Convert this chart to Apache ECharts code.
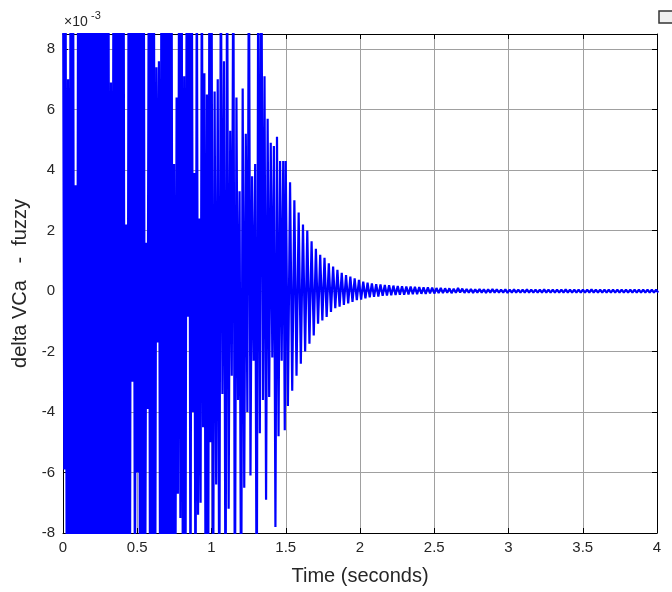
<!DOCTYPE html>
<html><head><meta charset="utf-8">
<script src="https://cdn.jsdelivr.net/npm/echarts@6/dist/echarts.min.js"></script>
<style>html,body{margin:0;padding:0;background:#fff}#c{width:672px;height:592px}</style>
</head><body><div id="c"></div>
<script>
// Signal stored as alternating extrema (peak, trough, peak, ...), in units of 1e-3.
// Values beyond +/-8.5 run off the axes.
// Segment 1: 0 s .. 1.0 s
const earlyStart = 0;
const earlyStep = 0.0085;
const earlyPeaks = [
 12, 12, 7.0, 12, 12, 3.5, 12, 12, 12, 12,
 12, 12, 12, 12, 12, 12, 12, 12, 12, 6.9,
 12, 12, 12, 12, 12, 2.2, 12, 12, 12, 12,
 12, 12, 12, 1.6, 12, 12, 12, 7.4, 7.6, 12,
 12, 12, 12, 12, 4.2, 6.4, 12, 12, 7.1, 12,
 12, 12, 3.9, 12, 2.4, 12, 7.2, 6.5, 12
];
const earlyTroughs = [
 -5.9, -12, -12, -12, -12, -12, -12, -12, -12, -12,
 -12, -12, -12, -12, -12, -12, -12, -12, -12, -12,
 -12, -12, -12, -12, -12, -12, -12, -3.0, -12, -6.0,
 -12, -12, -12, -3.9, -12, -12, -12, -1.7, -12, -12,
 -12, -12, -12, -12, -12, -6.7, -7.5, -12, -12, -0.85,
 -12, -4.0, -12, -7.4, -7.0, -4.5, -12, -12, -5.0
];
// Segment 2: 1.0 s .. 1.5 s
const midStart = 1.0;
const midStep = 0.0105;
const midPeaks = [
 12, 6.6, 7.0, 12, 7.6, 12, 5.3, 12, 6.4, 3.3,
 6.7, 5.2, 12, 3.8, 4.2, 12, 12, 7.1, 5.7, 4.9,
 4.8, 5.1, 4.3, 4.3
];
const midTroughs = [
 -12, -6.4, -12, -3.4, -12, -7.2, -2.8, -12, -3.6, -12,
 -6.5, -4.0, -6.1, -2.3, -12, -4.7, -3.6, -6.9, -3.5, -2.2,
 -7.8, -4.8, -2.3, -4.6
];
// Segment 3: 1.5 s .. 4.0 s
const lateStart = 1.5;
const lateStep = 0.0145;
const latePeaks = [
 4.3, 3.6, 3.0, 2.6, 2.2, 2.0, 1.65, 1.4, 1.2, 1.1,
 0.92, 0.81, 0.7, 0.6, 0.53, 0.48, 0.42, 0.37, 0.31, 0.28,
 0.25, 0.23, 0.22, 0.2, 0.19, 0.18, 0.17, 0.16, 0.15, 0.15,
 0.14, 0.13, 0.12, 0.12, 0.11, 0.1, 0.1, 0.09, 0.09, 0.08,
 0.1, 0.08, 0.07, 0.07, 0.06, 0.07, 0.06, 0.06, 0.07, 0.06,
 0.05, 0.06, 0.05, 0.06, 0.05, 0.05, 0.06, 0.05, 0.05, 0.05,
 0.06, 0.05, 0.05, 0.05, 0.05, 0.06, 0.05, 0.05, 0.05, 0.05,
 0.05, 0.06, 0.05, 0.05, 0.05, 0.05, 0.05, 0.05, 0.05, 0.05,
 0.05, 0.05, 0.05, 0.05, 0.05, 0.05, 0.05
];
const lateTroughs = [
 -3.8, -3.3, -2.8, -2.4, -2.0, -1.74, -1.47, -1.08, -0.97, -0.86,
 -0.69, -0.57, -0.52, -0.46, -0.41, -0.36, -0.3, -0.28, -0.24, -0.21,
 -0.19, -0.18, -0.16, -0.15, -0.14, -0.13, -0.12, -0.12, -0.11, -0.1,
 -0.1, -0.09, -0.09, -0.08, -0.08, -0.07, -0.07, -0.06, -0.07, -0.06,
 -0.05, -0.06, -0.05, -0.06, -0.05, -0.05, -0.06, -0.05, -0.05, -0.05,
 -0.05, -0.06, -0.05, -0.05, -0.05, -0.05, -0.05, -0.05, -0.05, -0.05,
 -0.05, -0.05, -0.05, -0.05, -0.05, -0.05, -0.05, -0.05, -0.05, -0.05,
 -0.05, -0.05, -0.05, -0.05, -0.05, -0.05, -0.05, -0.05, -0.05, -0.05,
 -0.05, -0.05, -0.05, -0.05, -0.05, -0.05, -0.05
];
const xRange = [0, 4];
const xStep = 0.5;
const yRange = [-8, 8.5];
const yStep = 2;
const xLabel = 'Time (seconds)';
const yLabel = 'delta VCa   -  fuzzy';

const seriesData = [];
function addSegment(start, step, peaks, troughs) {
  for (let k = 0; k < peaks.length; k++) {
    seriesData.push([start + (2 * k) * step, peaks[k]]);
    if (k < troughs.length) seriesData.push([start + (2 * k + 1) * step, troughs[k]]);
  }
}
addSegment(earlyStart, earlyStep, earlyPeaks, earlyTroughs);
addSegment(midStart, midStep, midPeaks, midTroughs);
addSegment(lateStart, lateStep, latePeaks, lateTroughs);

const FONT = 'Liberation Sans, Arial, Helvetica, sans-serif';
const TXT = '#262626';
const chart = echarts.init(document.getElementById('c'), null, {renderer: 'canvas'});
const yFmt = v => { const r = Math.round(v); return (Math.abs(v - r) < 1e-6 && r % 2 === 0) ? String(r) : ''; };
chart.setOption({
  animation: false,
  backgroundColor: '#fff',
  grid: {left: 63, right: 15, top: 34, bottom: 59, containLabel: false},
  xAxis: [{
    type: 'value', min: xRange[0], max: xRange[1], interval: xStep,
    name: xLabel, nameLocation: 'middle', nameGap: 33,
    nameTextStyle: {fontFamily: FONT, fontSize: 20, color: TXT},
    axisLine: {show: true, onZero: false, lineStyle: {color: '#000', width: 1}},
    axisTick: {show: true, inside: true, length: 5, lineStyle: {color: '#000'}},
    axisLabel: {fontFamily: FONT, fontSize: 15, color: TXT, margin: 7},
    splitLine: {show: true, lineStyle: {color: '#a0a0a0', width: 1}}
  }, {
    type: 'value', position: 'top', min: xRange[0], max: xRange[1], interval: xStep,
    axisLine: {show: true, onZero: false, lineStyle: {color: '#000', width: 1}},
    axisTick: {show: true, inside: true, length: 5, lineStyle: {color: '#000'}},
    axisLabel: {show: false}, splitLine: {show: false}
  }],
  yAxis: [{
    type: 'value', min: yRange[0], max: yRange[1], interval: yStep,
    name: yLabel, nameLocation: 'middle', nameGap: 27, nameRotate: 90,
    nameTextStyle: {fontFamily: FONT, fontSize: 20, color: TXT},
    axisLine: {show: true, onZero: false, lineStyle: {color: '#000', width: 1}},
    axisTick: {show: true, inside: true, length: 5, lineStyle: {color: '#000'}},
    axisLabel: {fontFamily: FONT, fontSize: 15, color: TXT, margin: 8, formatter: yFmt},
    splitLine: {show: true, lineStyle: {color: '#a0a0a0', width: 1}}
  }, {
    type: 'value', position: 'right', min: yRange[0], max: yRange[1], interval: yStep,
    axisLine: {show: true, onZero: false, lineStyle: {color: '#000', width: 1}},
    axisTick: {show: true, inside: true, length: 5, lineStyle: {color: '#000'}},
    axisLabel: {show: false}, splitLine: {show: false}
  }],
  series: [{
    type: 'line', xAxisIndex: 0, yAxisIndex: 0, data: seriesData,
    showSymbol: false, symbol: 'none', clip: true,
    lineStyle: {color: '#0000ff', width: 2.2}
  }],
  graphic: [
    {type: 'text', left: 64, top: 15, style: {text: '×10', fontFamily: FONT, fontSize: 14, fill: TXT}},
    {type: 'text', left: 91, top: 10, style: {text: '-3', fontFamily: FONT, fontSize: 11, fill: TXT}},
    {type: 'rect', shape: {x: 659, y: 11, width: 14, height: 12}, style: {fill: '#f0f0f0', stroke: '#333', lineWidth: 1.5}}
  ]
});
</script></body></html>
